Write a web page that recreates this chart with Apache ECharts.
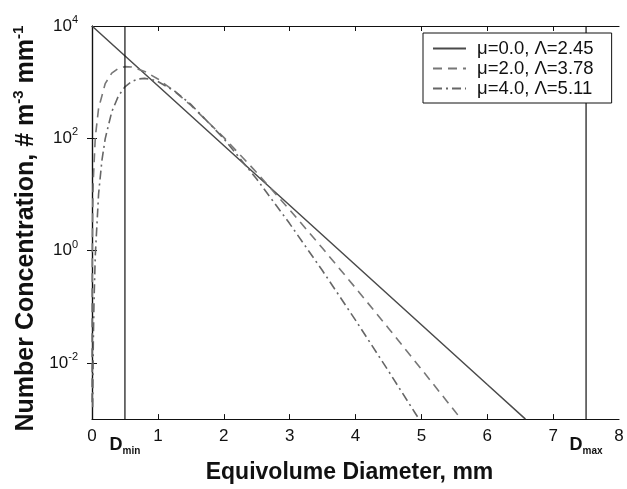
<!doctype html>
<html lang="en">
<head>
<meta charset="utf-8" />
<title>Gamma DSD</title>
<script src="https://cdn.jsdelivr.net/npm/echarts@6/dist/echarts.min.js"></script>
<style>
  html, body { margin: 0; padding: 0; background: #fff; }
  #chart { width: 627px; height: 489px; }
</style>
</head>
<body>
<div id="chart"></div>
<script>
  // diameters (mm) and concentrations
  const dExp = [0, 1, 2, 3, 4, 5, 6, 6.58];
  const nExp = [10000, 863, 74.5, 6.43, 0.555, 0.0479, 0.00413, 0.001];

  const dMu2 = [0.0002, 0.001, 0.002, 0.005, 0.01, 0.02, 0.05, 0.1, 0.2, 0.3, 0.4, 0.5, 0.6, 0.8, 1.0, 1.25, 1.5, 2.0, 2.5, 3.0, 3.5, 4.0, 4.5, 5.0, 5.5, 5.6];
  const nMu2 = [0.002, 0.05, 0.198, 1.23, 4.81, 18.5, 104, 343, 939, 1450, 1764, 1888, 1863, 1555, 1141, 693, 388, 104, 24.6, 5.35, 1.10, 0.217, 0.0416, 0.00776, 0.00142, 0.00101];

  const dMu4 = [0.01, 0.02, 0.03, 0.05, 0.1, 0.15, 0.2, 0.3, 0.4, 0.5, 0.6, 0.7, 0.8, 0.9, 1.0, 1.25, 1.5, 2.0, 2.5, 3.0, 3.5, 4.0, 4.5, 4.9, 4.95];
  const nMu4 = [0.00162, 0.0246, 0.118, 0.823, 10.2, 40.0, 97.9, 297, 564, 826, 1026, 1141, 1167, 1121, 1025, 698, 404, 99.1, 18.8, 3.03, 0.437, 0.0578, 0.0072, 0.00131, 0.00106];

  const seriesNames = ['\u03bc=0.0, \u039b=2.45', '\u03bc=2.0, \u039b=3.78', '\u03bc=4.0, \u039b=5.11'];
  const dMin = 0.5;
  const dMax = 7.5;
  const xLabelValues = [0, 0.5, 1, 2, 3, 4, 5, 6, 7, 7.5, 8];
  const xTickValues = [1, 2, 3, 4, 5, 6, 7];
  const yLabelValues = [0.01, 1, 100, 10000];
  const yTickValues = [0.01, 1, 100];

  const font = 'Liberation Sans, Arial, sans-serif';
  const pair = (xs, ys) => xs.map((x, i) => [x, ys[i]]);

  const chart = echarts.init(document.getElementById('chart'));
  chart.setOption({
    animation: false,
    backgroundColor: '#fff',
    textStyle: { fontFamily: font },
    grid: { left: 92, right: 8, top: 26, bottom: 50 },
    legend: {
      data: seriesNames,
      orient: 'vertical',
      left: 423,
      top: 33,
      padding: [6, 18, 5, 9],
      itemGap: 1,
      itemWidth: 33,
      itemHeight: 14,
      borderColor: '#111',
      borderWidth: 1,
      borderRadius: 0,
      backgroundColor: '#fff',
      itemStyle: { opacity: 0 },
      textStyle: { fontFamily: font, fontSize: 18.5, color: '#111', padding: [0, 0, 0, 6] }
    },
    xAxis: [
      {
        type: 'value', min: 0, max: 8,
        name: 'Equivolume Diameter, mm',
        nameLocation: 'middle', nameGap: 39,
        nameTextStyle: { fontFamily: font, fontSize: 23, fontWeight: 'bold', color: '#111', padding: [0, 12, 0, 0] },
        axisLine: { lineStyle: { color: '#111', width: 1.2 } },
        axisTick: { inside: true, length: 5, customValues: xTickValues, lineStyle: { color: '#111' } },
        splitLine: { show: false },
        axisLabel: {
          customValues: xLabelValues,
          margin: 9,
          color: '#111',
          formatter: v => v === dMin ? '{d|D}{s|min}' : v === dMax ? '{d|D}{s|max}' : '{n|' + v + '}',
          rich: {
            n: { fontSize: 17, color: '#111' },
            d: { fontSize: 18, fontWeight: 'bold', color: '#111', padding: [5, 0, 0, 0] },
            s: { fontSize: 10, fontWeight: 'bold', color: '#111', padding: [18, 0, 0, 0] }
          }
        }
      },
      {
        type: 'value', min: 0, max: 8, position: 'top',
        axisLine: { lineStyle: { color: '#111', width: 1.2 } },
        axisTick: { inside: true, length: 5, customValues: xTickValues, lineStyle: { color: '#111' } },
        axisLabel: { show: false },
        splitLine: { show: false }
      }
    ],
    yAxis: [
      {
        type: 'log', logBase: 10, min: 0.001, max: 10000,
        name: 'Number Concentration, # m{s|-3} mm{s|-1}',
        nameLocation: 'middle', nameGap: 47,
        nameTextStyle: {
          fontFamily: font, fontSize: 25, fontWeight: 'bold', color: '#111', padding: [0, 12, 0, 0],
          rich: { s: { fontSize: 15, fontWeight: 'bold', color: '#111', padding: [0, 0, 14, 0] } }
        },
        axisLine: { lineStyle: { color: '#111', width: 1.2 } },
        axisTick: { inside: true, length: 5, customValues: yTickValues, lineStyle: { color: '#111' } },
        splitLine: { show: false },
        minorTick: { show: false },
        axisLabel: {
          customValues: yLabelValues,
          margin: 14,
          formatter: v => '{b|10}{s|' + Math.round(Math.log10(v)) + '}',
          rich: {
            b: { fontSize: 17, color: '#111' },
            s: { fontSize: 11, color: '#111', padding: [0, 0, 12, 0] }
          }
        }
      },
      {
        type: 'log', logBase: 10, min: 0.001, max: 10000, position: 'right',
        axisLine: { lineStyle: { color: '#111', width: 1.2 } },
        axisTick: { inside: true, length: 5, customValues: yTickValues, lineStyle: { color: '#111' } },
        axisLabel: { show: false },
        splitLine: { show: false }
      }
    ],
    series: [
      {
        name: seriesNames[0], type: 'line', data: pair(dExp, nExp),
        symbol: 'none', clip: true, color: '#4a4a4a',
        lineStyle: { color: '#4a4a4a', width: 1.5 }
      },
      {
        name: seriesNames[1], type: 'line', data: pair(dMu2, nMu2),
        symbol: 'none', clip: true, color: '#777',
        lineStyle: { color: '#777', width: 1.6, type: [9, 6] }
      },
      {
        name: seriesNames[2], type: 'line', data: pair(dMu4, nMu4),
        symbol: 'none', clip: true, color: '#666',
        lineStyle: { color: '#666', width: 1.6, type: [9, 4, 2, 4] }
      },
      {
        name: 'Dmin', type: 'line', data: [[dMin, 0.001], [dMin, 10000]],
        symbol: 'none', silent: true, lineStyle: { color: '#111', width: 1.2 }
      },
      {
        name: 'Dmax', type: 'line', data: [[dMax, 0.001], [dMax, 10000]],
        symbol: 'none', silent: true, lineStyle: { color: '#111', width: 1.2 }
      }
    ]
  });
</script>
</body>
</html>
